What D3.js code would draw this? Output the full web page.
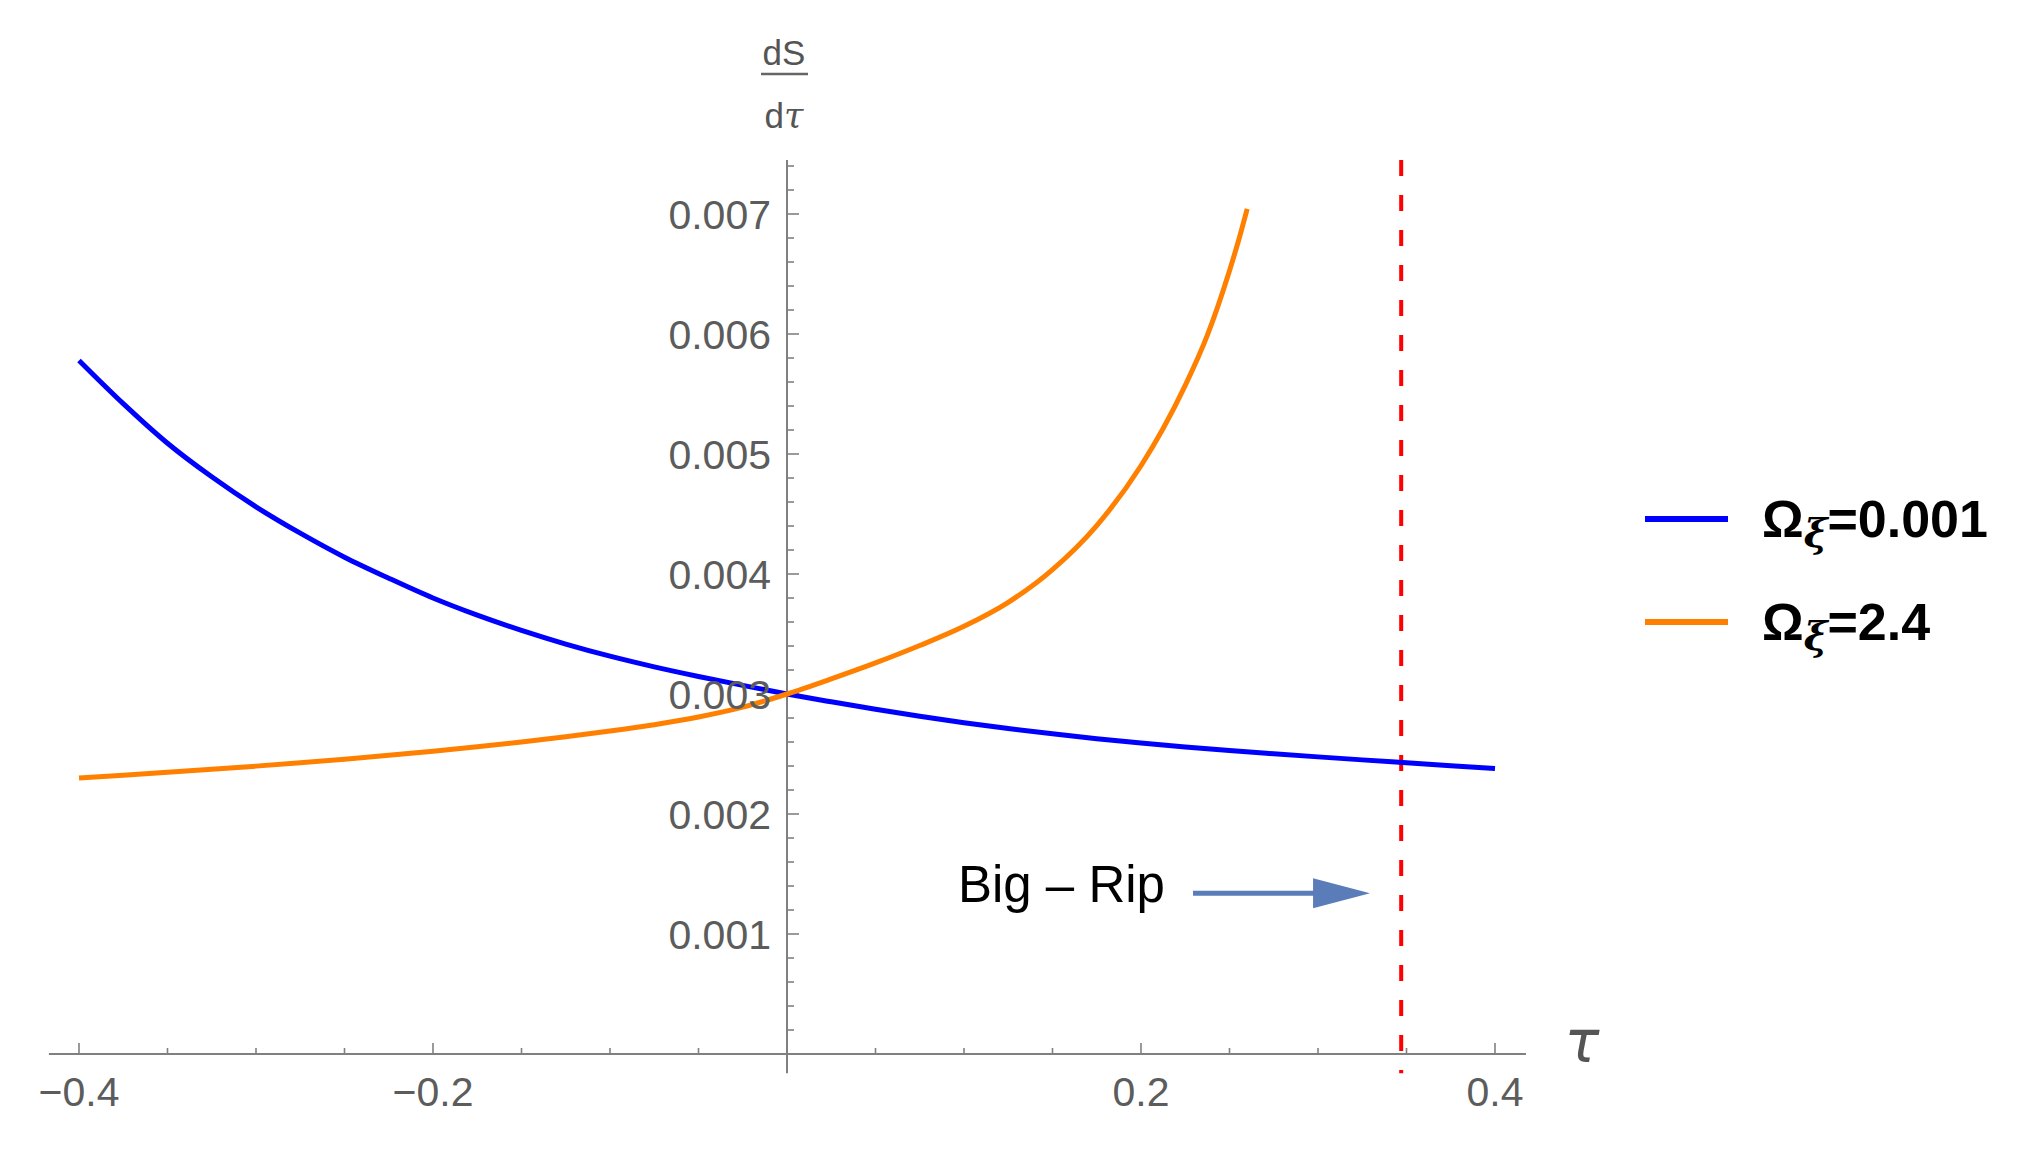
<!DOCTYPE html>
<html>
<head>
<meta charset="utf-8">
<script src="https://cdn.jsdelivr.net/npm/d3@7"></script>
<style>
  html, body { margin: 0; padding: 0; background: #fff; }
  svg { display: block; }
</style>
</head>
<body>
<svg id="chart" width="2028" height="1150"></svg>
<script>
// ---- data ----
const blueTau = [-0.40,-0.375,-0.35,-0.325,-0.30,-0.275,-0.25,-0.225,-0.20,-0.175,-0.15,-0.125,-0.10,-0.075,-0.05,-0.025,0,0.025,0.05,0.075,0.10,0.125,0.15,0.175,0.20,0.225,0.25,0.275,0.30,0.325,0.35,0.375,0.40];
const blueVal = [0.00578,0.00542,0.00509,0.00481,0.00456,0.00434,0.00414,0.003965,0.00380,0.003657,0.00353,0.003416,0.003315,0.003226,0.003146,0.003072,0.00300,0.002935,0.002873,0.002815,0.002761,0.002712,0.002668,0.002628,0.002592,0.002559,0.002529,0.002502,0.002476,0.002451,0.002427,0.002403,0.00238];

const orangeTau = [-0.40,-0.375,-0.35,-0.325,-0.30,-0.275,-0.25,-0.225,-0.20,-0.175,-0.15,-0.125,-0.10,-0.075,-0.05,-0.025,0,0.025,0.05,0.075,0.10,0.125,0.15,0.175,0.20,0.2125,0.225,0.2375,0.25,0.255,0.26];
const orangeVal = [0.002300,0.002323,0.002347,0.002372,0.002399,0.002427,0.002457,0.002489,0.002523,0.002560,0.002600,0.002644,0.002691,0.002744,0.002808,0.002890,0.003000,0.003126,0.003259,0.003404,0.003564,0.003764,0.004037,0.004404,0.004902,0.005212,0.005572,0.005991,0.006528,0.006773,0.007043];

const seriesNames = ["0.001", "2.4"];
const seriesColors = ["#0000ff", "#ff8000"];

const xTickLabels = [-0.4, -0.2, 0.2, 0.4];
const yTickLabels = [0.001, 0.002, 0.003, 0.004, 0.005, 0.006, 0.007];

const bigRipTau = 0.347;
const xDomain = [-0.417, 0.4175];
const yDomain = [-0.00016, 0.00745];

// ---- scales ----
const x = d3.scaleLinear().domain([-0.4, 0.4]).range([79, 1495]);
const y = d3.scaleLinear().domain([0, 0.007]).range([1054, 214]);

const svg = d3.select("#chart");
const axisColor = "#808080";
const labelColor = "#5c5c5c";
const font = "'Liberation Sans', Arial, sans-serif";

// ---- curves ----
const line = d3.line().x(d => x(d[0])).y(d => y(d[1])).curve(d3.curveMonotoneX);
const blueData = blueTau.map((t, i) => [t, blueVal[i]]);
const orangeData = orangeTau.map((t, i) => [t, orangeVal[i]]);

// ---- axes ----
const gAx = svg.append("g");
gAx.append("line")
  .attr("x1", x(xDomain[0])).attr("x2", x(xDomain[1]))
  .attr("y1", y(0)).attr("y2", y(0))
  .attr("stroke", axisColor).attr("stroke-width", 2);
gAx.append("line")
  .attr("x1", x(0)).attr("x2", x(0))
  .attr("y1", y(yDomain[0])).attr("y2", y(yDomain[1]))
  .attr("stroke", axisColor).attr("stroke-width", 2);

// x ticks (minor every 0.05, major every 0.2)
const xTicks = d3.range(-8, 9).map(k => k * 0.05).filter(v => Math.abs(v) > 1e-9);
xTicks.forEach(v => {
  const major = Math.abs(Math.round(v / 0.2) * 0.2 - v) < 1e-9;
  gAx.append("line")
    .attr("x1", x(v)).attr("x2", x(v))
    .attr("y1", y(0)).attr("y2", y(0) - (major ? 11 : 6))
    .attr("stroke", axisColor).attr("stroke-width", 1.6);
});
// y ticks (minor every 0.0002, major every 0.001)
const yTicks = d3.range(1, 38).map(k => k * 0.0002);
yTicks.forEach(v => {
  const major = Math.abs(Math.round(v / 0.001) * 0.001 - v) < 1e-9;
  gAx.append("line")
    .attr("x1", x(0)).attr("x2", x(0) + (major ? 12 : 7))
    .attr("y1", y(v)).attr("y2", y(v))
    .attr("stroke", axisColor).attr("stroke-width", 1.6);
});

// red dashed Big Rip line
svg.append("line")
  .attr("x1", x(bigRipTau)).attr("x2", x(bigRipTau))
  .attr("y1", y(yDomain[1])).attr("y2", y(yDomain[0]))
  .attr("stroke", "#ff0000").attr("stroke-width", 4)
  .attr("stroke-dasharray", "16 19");

// curves
svg.append("path").datum(blueData).attr("d", line)
  .attr("fill", "none").attr("stroke", seriesColors[0]).attr("stroke-width", 5);
svg.append("path").datum(orangeData).attr("d", line)
  .attr("fill", "none").attr("stroke", seriesColors[1]).attr("stroke-width", 5);

// tick labels
xTickLabels.forEach(v => {
  svg.append("text")
    .attr("x", x(v)).attr("y", 1106)
    .attr("text-anchor", "middle")
    .attr("font-family", font).attr("font-size", 41)
    .attr("fill", labelColor)
    .text(v < 0 ? "\u2212" + Math.abs(v) : String(v));
});
yTickLabels.forEach(v => {
  svg.append("text")
    .attr("x", x(0) - 16).attr("y", y(v))
    .attr("dy", "0.36em")
    .attr("text-anchor", "end")
    .attr("font-family", font).attr("font-size", 41)
    .attr("fill", labelColor)
    .text(v.toFixed(3));
});

// axis labels
svg.append("text")
  .attr("x", 1582).attr("y", 1062)
  .attr("text-anchor", "middle")
  .attr("font-family", "'DejaVu Sans', sans-serif").attr("font-style", "italic")
  .attr("font-size", 58).attr("fill", "#555")
  .text("τ");

const fx = 784;
svg.append("text")
  .attr("x", fx).attr("y", 65)
  .attr("text-anchor", "middle")
  .attr("font-family", font).attr("font-size", 35).attr("fill", "#555")
  .text("dS");
svg.append("line")
  .attr("x1", fx - 23).attr("x2", fx + 24).attr("y1", 74).attr("y2", 74)
  .attr("stroke", "#666").attr("stroke-width", 2.5);
const dt = svg.append("text")
  .attr("x", fx).attr("y", 128)
  .attr("text-anchor", "middle")
  .attr("font-family", font).attr("font-size", 35).attr("fill", "#555");
dt.append("tspan").text("d");
dt.append("tspan").attr("font-family", "'DejaVu Serif', serif").attr("font-style", "italic").text("τ");

// legend
const legY = [519, 622];
seriesNames.forEach((name, i) => {
  svg.append("line")
    .attr("x1", 1645).attr("x2", 1728)
    .attr("y1", legY[i]).attr("y2", legY[i])
    .attr("stroke", seriesColors[i]).attr("stroke-width", 6);
  const t = svg.append("text")
    .attr("x", 1762).attr("y", legY[i] + 18)
    .attr("font-family", font).attr("font-weight", "bold")
    .attr("font-size", 52).attr("fill", "#000");
  t.append("tspan").text("Ω");
  t.append("tspan").attr("dy", 10)
    .attr("font-family", "'DejaVu Serif', serif").attr("font-style", "italic")
    .attr("font-weight", "bold")
    .attr("font-size", 40).text("ξ");
  t.append("tspan").attr("dy", -10).text("=" + name);
});

// Big-Rip annotation
svg.append("text")
  .attr("x", x(0.0966)).attr("y", y(0.00127))
  .attr("font-family", font).attr("font-size", 51).attr("fill", "#000")
  .text("Big \u2013 Rip");
const arrowColor = "#5a7db9";
const ay = y(0.00134);
svg.append("line")
  .attr("x1", x(0.2294)).attr("x2", x(0.300))
  .attr("y1", ay).attr("y2", ay)
  .attr("stroke", arrowColor).attr("stroke-width", 5);
svg.append("path")
  .attr("d", `M${x(0.2972)},${ay - 15} L${x(0.3294)},${ay} L${x(0.2972)},${ay + 15} Z`)
  .attr("fill", arrowColor);
</script>
</body>
</html>
